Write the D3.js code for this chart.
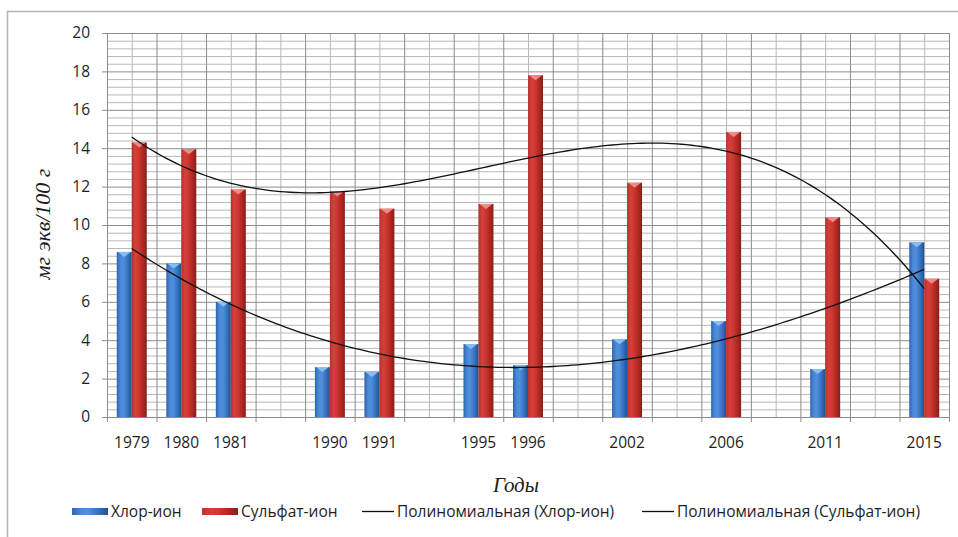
<!DOCTYPE html>
<html>
<head>
<meta charset="utf-8">
<script src="https://cdn.jsdelivr.net/npm/d3@7"></script>
<style>
  html, body { margin: 0; padding: 0; background: #fff; }
  svg { display: block; }
</style>
</head>
<body>
<svg id="chart" width="958" height="537"></svg>
<script>
// Sampling years (empty slots keep the time gaps on the category axis)
const years = ["1979", "1980", "1981", "", "1990", "1991", "", "1995", "1996", "", "2002", "", "2006", "", "2011", "", "2015"];
// мг экв/100 г
const chlorIon = [8.6, 8.0, 6.0, null, 2.6, 2.35, null, 3.8, 2.7, null, 4.05, null, 5.0, null, 2.5, null, 9.1];
const sulfateIon = [14.3, 13.95, 11.85, null, 11.75, 10.85, null, 11.1, 17.8, null, 12.2, null, 14.85, null, 10.4, null, 7.2];
const yTicks = [0, 2, 4, 6, 8, 10, 12, 14, 16, 18, 20];
const seriesNames = ["Хлор-ион", "Сульфат-ион"];
const trendNames = ["Полиномиальная (Хлор-ион)", "Полиномиальная (Сульфат-ион)"];
const trendOrder = 3;

(function () {
const svg = d3.select("#chart");
const plotLeft = 107, plotRight = 949, plotTop = 33, plotBottom = 417;
const n = years.length;
const labelFont = "'Open Sans', sans-serif";
const titleFont = "'Liberation Serif', 'Times New Roman', serif";

// frame of the chart area
svg.append("rect")
  .attr("x", 7.5).attr("y", 11.5).attr("width", 1000).attr("height", 600)
  .attr("fill", "#fff").attr("stroke", "#b4b4b4").attr("stroke-width", 1.5);

const x = d3.scaleBand().domain(d3.range(n)).range([plotLeft, plotRight]).paddingInner(0).paddingOuter(0);
const xPos = d3.scaleLinear().domain([0, n]).range([plotLeft, plotRight]);   // category boundaries / centres
const y = d3.scaleLinear().domain([0, 20]).range([plotBottom, plotTop]);

// gradients for the cylinder-like bars
const defs = svg.append("defs");
function grad(id, stops) {
  const g = defs.append("linearGradient").attr("id", id).attr("x1", "0").attr("x2", "1").attr("y1", "0").attr("y2", "0");
  stops.forEach(([o, c]) => g.append("stop").attr("offset", o).attr("stop-color", c));
}
grad("gBlue", [[0, "#2f64ad"], [0.25, "#4a8ad8"], [0.45, "#4f8fdc"], [0.75, "#3570bf"], [1, "#24508f"]]);
grad("gRed", [[0, "#b8302b"], [0.25, "#d6403a"], [0.45, "#cf3731"], [0.75, "#b02722"], [1, "#85201b"]]);

// minor horizontal grid (every 0.4)
const minorY = d3.range(0, 20.001, 0.4).filter(v => Math.abs(v / 2 - Math.round(v / 2)) > 1e-6);
svg.append("g").attr("transform", `translate(${plotLeft},0)`)
  .call(d3.axisLeft(y).tickValues(minorY).tickSize(-(plotRight - plotLeft)).tickFormat(""))
  .call(g => g.select(".domain").remove())
  .call(g => g.selectAll("line").attr("stroke", "#b8b8b8").attr("stroke-width", 1));

// minor vertical grid at category centres
svg.append("g").attr("transform", `translate(0,${plotBottom})`)
  .call(d3.axisBottom(xPos).tickValues(d3.range(n).map(i => i + 0.5)).tickSize(-(plotBottom - plotTop)).tickFormat(""))
  .call(g => g.select(".domain").remove())
  .call(g => g.selectAll("line").attr("stroke", "#b8b8b8").attr("stroke-width", 1));

// major horizontal grid
svg.append("g").attr("transform", `translate(${plotLeft},0)`)
  .call(d3.axisLeft(y).tickValues(yTicks).tickSize(-(plotRight - plotLeft)).tickFormat(""))
  .call(g => g.select(".domain").remove())
  .call(g => g.selectAll("line").attr("stroke", "#8c8c8c").attr("stroke-width", 1));

// major vertical grid at category boundaries
svg.append("g").attr("transform", `translate(0,${plotBottom})`)
  .call(d3.axisBottom(xPos).tickValues(d3.range(1, n + 1)).tickSize(-(plotBottom - plotTop)).tickFormat(""))
  .call(g => g.select(".domain").remove())
  .call(g => g.selectAll("line").attr("stroke", "#8c8c8c").attr("stroke-width", 1));

// bars
const groupHalf = 15;
const x1 = d3.scaleBand().domain([0, 1]).range([-groupHalf, groupHalf]).padding(0);
const series = [
  { values: chlorIon, fill: "url(#gBlue)", cap: "#8fc3f2" },
  { values: sulfateIon, fill: "url(#gRed)", cap: "#f29590" }
];
series.forEach((s, si) => {
  const g = svg.append("g");
  s.values.forEach((v, i) => {
    if (v == null) return;
    const cx = x(i) + x.bandwidth() / 2;
    const x0 = cx + x1(si), w = x1.bandwidth();
    g.append("rect")
      .attr("x", x0).attr("y", y(v)).attr("width", w).attr("height", y(0) - y(v))
      .attr("fill", s.fill);
    g.append("path")
      .attr("d", `M${x0 + 1},${y(v)} L${x0 + w - 1},${y(v)} L${x0 + w / 2},${y(v) + 5} Z`)
      .attr("fill", s.cap).attr("opacity", 0.9);
  });
});

// least-squares polynomial trend over category positions 1..n
function polyFit(values, order) {
  const pts = values.map((v, i) => [i + 1, v]).filter(p => p[1] != null);
  const m = order + 1;
  const A = Array.from({ length: m }, () => new Array(m + 1).fill(0));
  pts.forEach(([px, py]) => {
    for (let r = 0; r < m; r++) {
      for (let c = 0; c < m; c++) A[r][c] += Math.pow(px, r + c);
      A[r][m] += py * Math.pow(px, r);
    }
  });
  for (let c = 0; c < m; c++) {
    let p = c;
    for (let r = c + 1; r < m; r++) if (Math.abs(A[r][c]) > Math.abs(A[p][c])) p = r;
    [A[c], A[p]] = [A[p], A[c]];
    for (let r = 0; r < m; r++) {
      if (r === c) continue;
      const f = A[r][c] / A[c][c];
      for (let k = c; k <= m; k++) A[r][k] -= f * A[c][k];
    }
  }
  const coef = A.map((row, i) => row[m] / row[i]);
  return t => coef.reduce((s, a, k) => s + a * Math.pow(t, k), 0);
}
const samples = d3.range(1, n + 0.001, 0.1);
const trendPath = d3.line().x(d => xPos(d[0] - 0.5)).y(d => y(d[1]));
[chlorIon, sulfateIon].forEach(vals => {
  const f = polyFit(vals, trendOrder);
  svg.append("path")
    .datum(samples.map(t => [t, f(t)]))
    .attr("d", trendPath)
    .attr("fill", "none").attr("stroke", "#111").attr("stroke-width", 1.3);
});

// axes
svg.append("g").attr("transform", `translate(${plotLeft},0)`)
  .call(d3.axisLeft(y).tickValues(yTicks).tickSize(5).tickPadding(12))
  .call(g => g.select(".domain").attr("stroke", "#8c8c8c"))
  .call(g => g.selectAll(".tick line").attr("stroke", "#8c8c8c"))
  .call(g => g.selectAll("text").attr("font-family", labelFont).attr("font-size", 15.5).attr("fill", "#1e1e1e"));

svg.append("g").attr("transform", `translate(0,${plotBottom})`)
  .call(d3.axisBottom(xPos).tickValues(d3.range(0, n + 1)).tickSize(5).tickFormat(""))
  .call(g => g.select(".domain").attr("stroke", "#8c8c8c"))
  .call(g => g.selectAll(".tick line").attr("stroke", "#8c8c8c"));

svg.append("g").attr("transform", `translate(0,${plotBottom})`)
  .call(d3.axisBottom(x).tickSize(0).tickPadding(20).tickFormat(i => years[i]))
  .call(g => g.select(".domain").remove())
  .call(g => g.selectAll("text").attr("font-family", labelFont).attr("font-size", 15.5).attr("fill", "#1e1e1e"));

// axis titles
svg.append("text")
  .attr("x", 516).attr("y", 492).attr("text-anchor", "middle")
  .attr("font-family", titleFont).attr("font-style", "italic")
  .attr("font-size", 21).attr("fill", "#1e1e1e").text("Годы");
svg.append("text")
  .attr("transform", "translate(50,224) rotate(-90)").attr("text-anchor", "middle")
  .attr("font-family", titleFont).attr("font-style", "italic")
  .attr("font-size", 22).attr("fill", "#1e1e1e").text("мг экв/100 г");

// legend
const legend = svg.append("g").attr("font-family", labelFont).attr("font-size", 15.5).attr("fill", "#1e1e1e");
const legendItems = [
  { x: 72, type: "bar", fill: "url(#gBlue)", label: seriesNames[0] },
  { x: 202, type: "bar", fill: "url(#gRed)", label: seriesNames[1] },
  { x: 362, type: "line", label: trendNames[0] },
  { x: 642, type: "line", label: trendNames[1] }
];
legendItems.forEach(it => {
  if (it.type === "bar") {
    legend.append("rect").attr("x", it.x).attr("y", 508).attr("width", 36).attr("height", 7).attr("fill", it.fill);
  } else {
    legend.append("line").attr("x1", it.x).attr("x2", it.x + 32).attr("y1", 511.5).attr("y2", 511.5)
      .attr("stroke", "#111").attr("stroke-width", 1.3);
  }
  legend.append("text").attr("x", it.x + (it.type === "bar" ? 39 : 35)).attr("y", 517).text(it.label);
});
})();
</script>
</body>
</html>
